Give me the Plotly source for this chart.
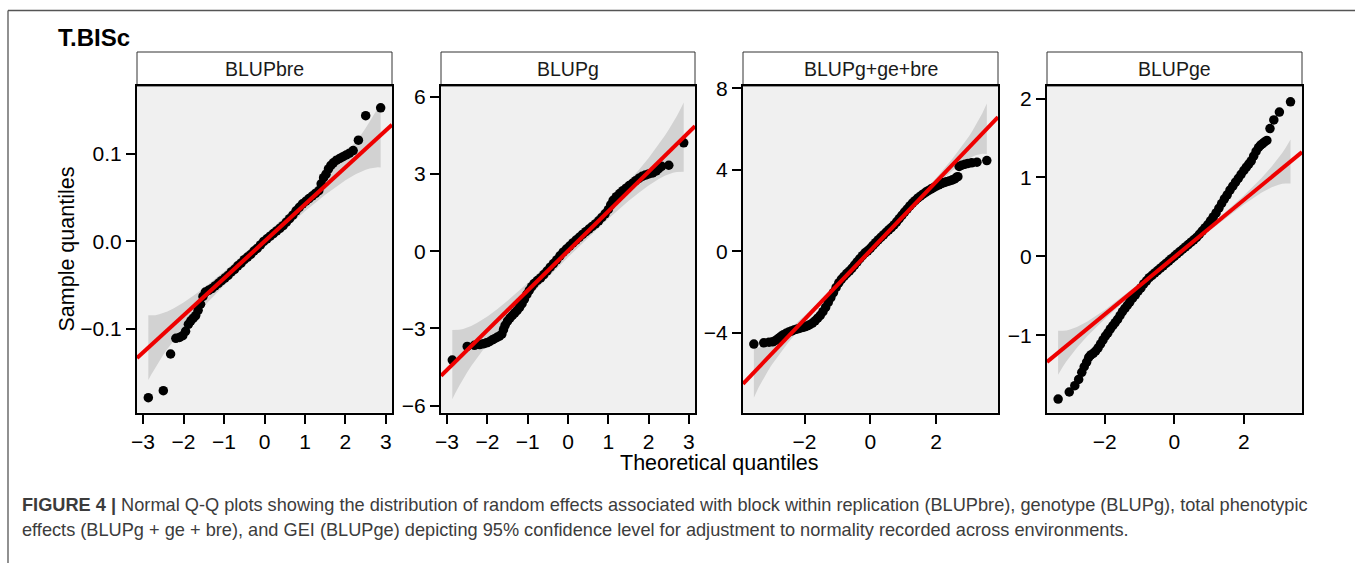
import plotly.graph_objects as go

W, H = 1355, 563

panel_titles = ["BLUPbre", "BLUPg", "BLUPg+ge+bre", "BLUPge"]

# ---- Q-Q points: theoretical quantile, sorted sample value ----
bre_theo = [-2.87, -2.50, -2.32, -2.19, -2.10, -2.02, -1.95, -1.88, -1.82, -1.76, -1.70, -1.64,
            -1.58, -1.52, -1.46, -1.38, -1.30, -1.22, -1.14, -1.06, -0.98, -0.90, -0.82, -0.74,
            -0.66, -0.58, -0.50, -0.42, -0.34, -0.26, -0.18, -0.10, -0.02, 0.06, 0.14, 0.22,
            0.30, 0.38, 0.46, 0.54, 0.62, 0.70, 0.78, 0.86, 0.94, 1.02, 1.10, 1.18, 1.26, 1.34,
            1.40, 1.46, 1.52, 1.58, 1.64, 1.70, 1.78, 1.86, 1.94, 2.02, 2.10, 2.19, 2.32, 2.50, 2.87]
bre_sample = [-0.179, -0.171, -0.129, -0.111, -0.110, -0.108, -0.103, -0.095, -0.091, -0.088, -0.085, -0.079,
              -0.072, -0.063, -0.058, -0.056, -0.054, -0.051, -0.048, -0.045, -0.042, -0.039, -0.035, -0.032,
              -0.028, -0.025, -0.021, -0.018, -0.015, -0.011, -0.008, -0.004, 0.000, 0.003, 0.006, 0.009,
              0.012, 0.015, 0.018, 0.022, 0.026, 0.030, 0.035, 0.039, 0.043, 0.046, 0.049, 0.052, 0.055, 0.058,
              0.066, 0.073, 0.077, 0.083, 0.087, 0.090, 0.093, 0.095, 0.097, 0.099, 0.101, 0.104, 0.116, 0.144, 0.153]

g_theo = [-2.87, -2.50, -2.32, -2.19, -2.10, -2.02, -1.95, -1.88, -1.82, -1.76, -1.70, -1.64,
          -1.60, -1.56, -1.50, -1.44, -1.38, -1.32, -1.26, -1.20, -1.14, -1.08, -1.02, -0.96,
          -0.90, -0.84, -0.76, -0.68, -0.60, -0.52, -0.44, -0.36, -0.28, -0.20, -0.12, -0.04,
          0.04, 0.12, 0.20, 0.28, 0.36, 0.44, 0.52, 0.60, 0.68, 0.76, 0.84, 0.92, 1.00, 1.06,
          1.12, 1.20, 1.28, 1.36, 1.44, 1.52, 1.60, 1.68, 1.76, 1.84, 1.92, 2.00, 2.10, 2.19,
          2.25, 2.32, 2.50, 2.87]
g_sample = [-4.23, -3.70, -3.66, -3.63, -3.60, -3.56, -3.52, -3.45, -3.40, -3.35, -3.30, -3.22,
            -3.05, -2.88, -2.72, -2.60, -2.50, -2.40, -2.30, -2.18, -2.04, -1.86, -1.68, -1.52,
            -1.38, -1.26, -1.14, -1.04, -0.91, -0.77, -0.62, -0.48, -0.34, -0.18, -0.04, 0.08,
            0.20, 0.32, 0.43, 0.54, 0.65, 0.76, 0.86, 0.96, 1.06, 1.18, 1.31, 1.45, 1.62, 1.80,
            1.98, 2.12, 2.24, 2.35, 2.45, 2.55, 2.64, 2.74, 2.83, 2.91, 2.96, 3.00, 3.04, 3.12,
            3.21, 3.30, 3.34, 4.21]

tot_theo = [-3.54, -3.24, -3.08, -2.97, -2.88, -2.80, -2.72, -2.64, -2.56, -2.48, -2.40, -2.32,
            -2.24, -2.16, -2.08, -2.00, -1.92, -1.84, -1.76, -1.68, -1.60, -1.52, -1.44, -1.36,
            -1.28, -1.20, -1.12, -1.04, -0.96, -0.88, -0.80, -0.72, -0.64, -0.56, -0.48, -0.40,
            -0.32, -0.24, -0.16, -0.08, 0.00, 0.08, 0.16, 0.24, 0.32, 0.40, 0.48, 0.56, 0.64,
            0.72, 0.80, 0.88, 0.96, 1.04, 1.12, 1.20, 1.28, 1.36, 1.44, 1.52, 1.60, 1.68, 1.76,
            1.84, 1.92, 2.00, 2.08, 2.16, 2.24, 2.32, 2.40, 2.48, 2.56, 2.62, 2.66, 2.70, 2.78,
            2.88, 2.97, 3.08, 3.24, 3.54]
tot_sample = [-4.56, -4.50, -4.47, -4.45, -4.38, -4.29, -4.19, -4.10, -4.03, -3.97, -3.92, -3.87,
              -3.83, -3.79, -3.75, -3.72, -3.67, -3.61, -3.53, -3.42, -3.29, -3.15, -2.97, -2.76,
              -2.52, -2.28, -2.03, -1.78, -1.56, -1.38, -1.24, -1.10, -0.98, -0.84, -0.68, -0.52,
              -0.37, -0.22, -0.08, 0.02, 0.14, 0.28, 0.42, 0.55, 0.68, 0.80, 0.93, 1.05, 1.16,
              1.29, 1.44, 1.60, 1.76, 1.92, 2.07, 2.22, 2.36, 2.48, 2.60, 2.70, 2.80, 2.89, 2.97,
              3.05, 3.12, 3.19, 3.26, 3.32, 3.37, 3.41, 3.45, 3.49, 3.55, 3.63, 3.66, 4.16, 4.22,
              4.27, 4.31, 4.34, 4.37, 4.45]

ge_theo = [-3.34, -3.02, -2.86, -2.75, -2.66, -2.59, -2.52, -2.46, -2.40, -2.33, -2.26, -2.19,
           -2.12, -2.05, -1.98, -1.91, -1.84, -1.77, -1.70, -1.63, -1.56, -1.49, -1.42, -1.35,
           -1.28, -1.20, -1.12, -1.04, -0.96, -0.88, -0.80, -0.72, -0.64, -0.56, -0.48, -0.40,
           -0.32, -0.24, -0.16, -0.08, 0.00, 0.08, 0.16, 0.24, 0.32, 0.40, 0.48, 0.56, 0.64,
           0.72, 0.80, 0.88, 0.96, 1.04, 1.12, 1.20, 1.28, 1.36, 1.44, 1.52, 1.60, 1.68, 1.76,
           1.84, 1.92, 2.00, 2.07, 2.14, 2.21, 2.28, 2.35, 2.42, 2.48, 2.54, 2.59, 2.66, 2.75,
           2.86, 3.02, 3.34]
ge_sample = [-1.81, -1.72, -1.64, -1.56, -1.47, -1.40, -1.34, -1.28, -1.25, -1.23, -1.20, -1.16,
             -1.11, -1.06, -1.01, -0.97, -0.92, -0.88, -0.84, -0.80, -0.75, -0.70, -0.66, -0.62,
             -0.58, -0.53, -0.49, -0.44, -0.40, -0.35, -0.31, -0.27, -0.24, -0.21, -0.18, -0.15,
             -0.12, -0.09, -0.06, -0.03, 0.00, 0.03, 0.06, 0.09, 0.12, 0.15, 0.18, 0.21, 0.24,
             0.28, 0.32, 0.36, 0.40, 0.45, 0.50, 0.55, 0.61, 0.67, 0.73, 0.78, 0.84, 0.89, 0.94,
             0.99, 1.04, 1.09, 1.13, 1.17, 1.21, 1.27, 1.33, 1.38, 1.41, 1.43, 1.45, 1.47, 1.62,
             1.73, 1.83, 1.96]

# ---- reference line (through the quartiles): intercept, slope ----
qq_intercept = [0.0, 0.01, 0.03, -0.01]
qq_slope = [0.0424, 1.54, 1.69, 0.363]

# ---- 95% confidence band: half-width at |theoretical quantile| ----
bre_band_q = [0, 1.0, 1.5, 1.75, 2.0, 2.25, 2.4, 2.5, 2.6, 2.7, 2.8, 2.87]
bre_band_hw = [0.0067, 0.0080, 0.0103, 0.0121, 0.0147, 0.0184, 0.0214, 0.0238, 0.0267, 0.0300, 0.0339, 0.0371]
g_band_q = [0, 1.0, 1.5, 1.75, 2.0, 2.25, 2.4, 2.5, 2.6, 2.7, 2.8, 2.87]
g_band_hw = [0.242, 0.292, 0.372, 0.439, 0.534, 0.669, 0.779, 0.866, 0.968, 1.090, 1.233, 1.347]
tot_band_q = [0, 1.0, 1.5, 2.0, 2.5, 2.8, 3.0, 3.1, 3.2, 3.3, 3.4, 3.54]
tot_band_hw = [0.083, 0.100, 0.128, 0.183, 0.297, 0.423, 0.549, 0.631, 0.728, 0.845, 0.987, 1.239]
ge_band_q = [0, 1.0, 1.5, 2.0, 2.5, 2.8, 3.0, 3.1, 3.2, 3.3, 3.34]
ge_band_hw = [0.0258, 0.0312, 0.0397, 0.0570, 0.0924, 0.1316, 0.1707, 0.1963, 0.2266, 0.2629, 0.2798]

# ---- axes ----
x_ranges = [[-3.15, 3.15], [-3.15, 3.15], [-3.87, 3.88], [-3.66, 3.67]]
y_ranges = [[-0.196, 0.178], [-6.27, 6.42], [-7.92, 8.11], [-1.98, 2.16]]
x_ticks = [[-3, -2, -1, 0, 1, 2, 3], [-3, -2, -1, 0, 1, 2, 3], [-2, 0, 2], [-2, 0, 2]]
y_ticks = [[-0.1, 0.0, 0.1], [-6, -3, 0, 3, 6], [-4, 0, 4, 8], [-1, 0, 1, 2]]
y_formats = [".1f", "", "", ""]

points = [(bre_theo, bre_sample), (g_theo, g_sample), (tot_theo, tot_sample), (ge_theo, ge_sample)]
bands = [(bre_band_q, bre_band_hw), (g_band_q, g_band_hw), (tot_band_q, tot_band_hw), (ge_band_q, ge_band_hw)]

# panel placement in pixels
panel_px = [(137, 392), (441, 695), (743, 998), (1047, 1302)]
plot_top, plot_bottom = 86, 412.5
strip_top = 52

FONT = "Liberation Sans, Arial, Helvetica, sans-serif"

def px_x(v):
    return v / W

def px_y(v):
    return 1 - v / H

fig = go.Figure()
layout = dict(
    width=W, height=H,
    margin=dict(l=0, r=0, t=0, b=0, autoexpand=False),
    paper_bgcolor="white",
    plot_bgcolor="#f0f0f0",
    showlegend=False,
    font=dict(family=FONT, color="black"),
)
shapes = []
annotations = []

for i in range(4):
    xa = "x" if i == 0 else f"x{i + 1}"
    ya = "y" if i == 0 else f"y{i + 1}"
    a0, b0 = qq_intercept[i], qq_slope[i]

    # confidence band polygon
    q, hw = bands[i]
    bx = [-v for v in reversed(q[1:])] + list(q)
    bhw = list(reversed(hw[1:])) + list(hw)
    upper = [a0 + b0 * x + h for x, h in zip(bx, bhw)]
    lower = [a0 + b0 * x - h for x, h in zip(bx, bhw)]
    fig.add_trace(go.Scatter(
        x=bx + bx[::-1], y=upper + lower[::-1], xaxis=xa, yaxis=ya,
        mode="lines", fill="toself", fillcolor="#d2d2d2",
        line=dict(width=0, color="#d2d2d2"), hoverinfo="skip"))

    # sample points
    tx, sy = points[i]
    fig.add_trace(go.Scatter(
        x=tx, y=sy, xaxis=xa, yaxis=ya, mode="markers",
        marker=dict(color="black", size=9.5, line=dict(width=0))))

    # reference line across the panel
    xr = x_ranges[i]
    fig.add_trace(go.Scatter(
        x=xr, y=[a0 + b0 * xr[0], a0 + b0 * xr[1]], xaxis=xa, yaxis=ya,
        mode="lines", line=dict(color="#ee0000", width=4)))

    left, right = panel_px[i]
    axis_common = dict(
        showgrid=False, zeroline=False, showline=True, mirror=True,
        linecolor="black", linewidth=2, ticks="outside", ticklen=9,
        tickwidth=2, tickcolor="black", automargin=False,
        tickfont=dict(family=FONT, size=21, color="black"),
    )
    layout["xaxis" if i == 0 else f"xaxis{i + 1}"] = dict(
        domain=[px_x(left), px_x(right)], range=x_ranges[i],
        tickmode="array", tickvals=x_ticks[i], anchor=ya, **axis_common)
    ydict = dict(
        domain=[px_y(plot_bottom), px_y(plot_top)], range=y_ranges[i],
        tickmode="array", tickvals=y_ticks[i], anchor=xa, **axis_common)
    if y_formats[i]:
        ydict["tickformat"] = y_formats[i]
    layout["yaxis" if i == 0 else f"yaxis{i + 1}"] = ydict

    # facet strip
    shapes.append(dict(type="rect", xref="paper", yref="paper",
                       x0=px_x(left), x1=px_x(right), y0=px_y(plot_top), y1=px_y(strip_top),
                       fillcolor="white", line=dict(color="#333333", width=1), layer="below"))
    annotations.append(dict(text=panel_titles[i], xref="paper", yref="paper",
                            x=px_x((left + right) / 2), y=px_y((strip_top + plot_top) / 2),
                            xanchor="center", yanchor="middle", showarrow=False,
                            font=dict(family=FONT, size=19.5, color="#1a1a1a")))

# outer frame of the figure
shapes.append(dict(type="line", xref="paper", yref="paper", x0=px_x(8), x1=1, y0=px_y(10.5), y1=px_y(10.5),
                   line=dict(color="#555555", width=1.3)))
shapes.append(dict(type="line", xref="paper", yref="paper", x0=px_x(8), x1=px_x(8), y0=0, y1=px_y(10.5),
                   line=dict(color="#555555", width=1.3)))

annotations += [
    dict(text="<b>T.BISc</b>", xref="paper", yref="paper", x=px_x(56), y=px_y(37.5),
         xanchor="left", yanchor="middle", showarrow=False,
         font=dict(family=FONT, size=24, color="black")),
    dict(text="Sample quantiles", xref="paper", yref="paper", x=px_x(66), y=px_y(249.5),
         xanchor="center", yanchor="middle", textangle=-90, showarrow=False,
         font=dict(family=FONT, size=21.5, color="black")),
    dict(text="Theoretical quantiles", xref="paper", yref="paper", x=px_x(719), y=px_y(463),
         xanchor="center", yanchor="middle", showarrow=False,
         font=dict(family=FONT, size=21.5, color="black")),
]

caption_lines = [
    "<b>FIGURE 4 |</b> Normal Q-Q plots showing the distribution of random effects associated with block "
    "within replication (BLUPbre), genotype (BLUPg), total phenotypic",
    "effects (BLUPg + ge + bre), and GEI (BLUPge) depicting 95% confidence level for adjustment to "
    "normality recorded across environments.",
]
for txt, yc in zip(caption_lines, [505, 530]):
    annotations.append(dict(text=txt, xref="paper", yref="paper", x=px_x(20), y=px_y(yc),
                            xanchor="left", yanchor="middle", showarrow=False,
                            font=dict(family=FONT, size=18.2, color="#3c3c3c")))

layout["shapes"] = shapes
layout["annotations"] = annotations
fig.update_layout(**layout)

fig.write_html("out.html")
